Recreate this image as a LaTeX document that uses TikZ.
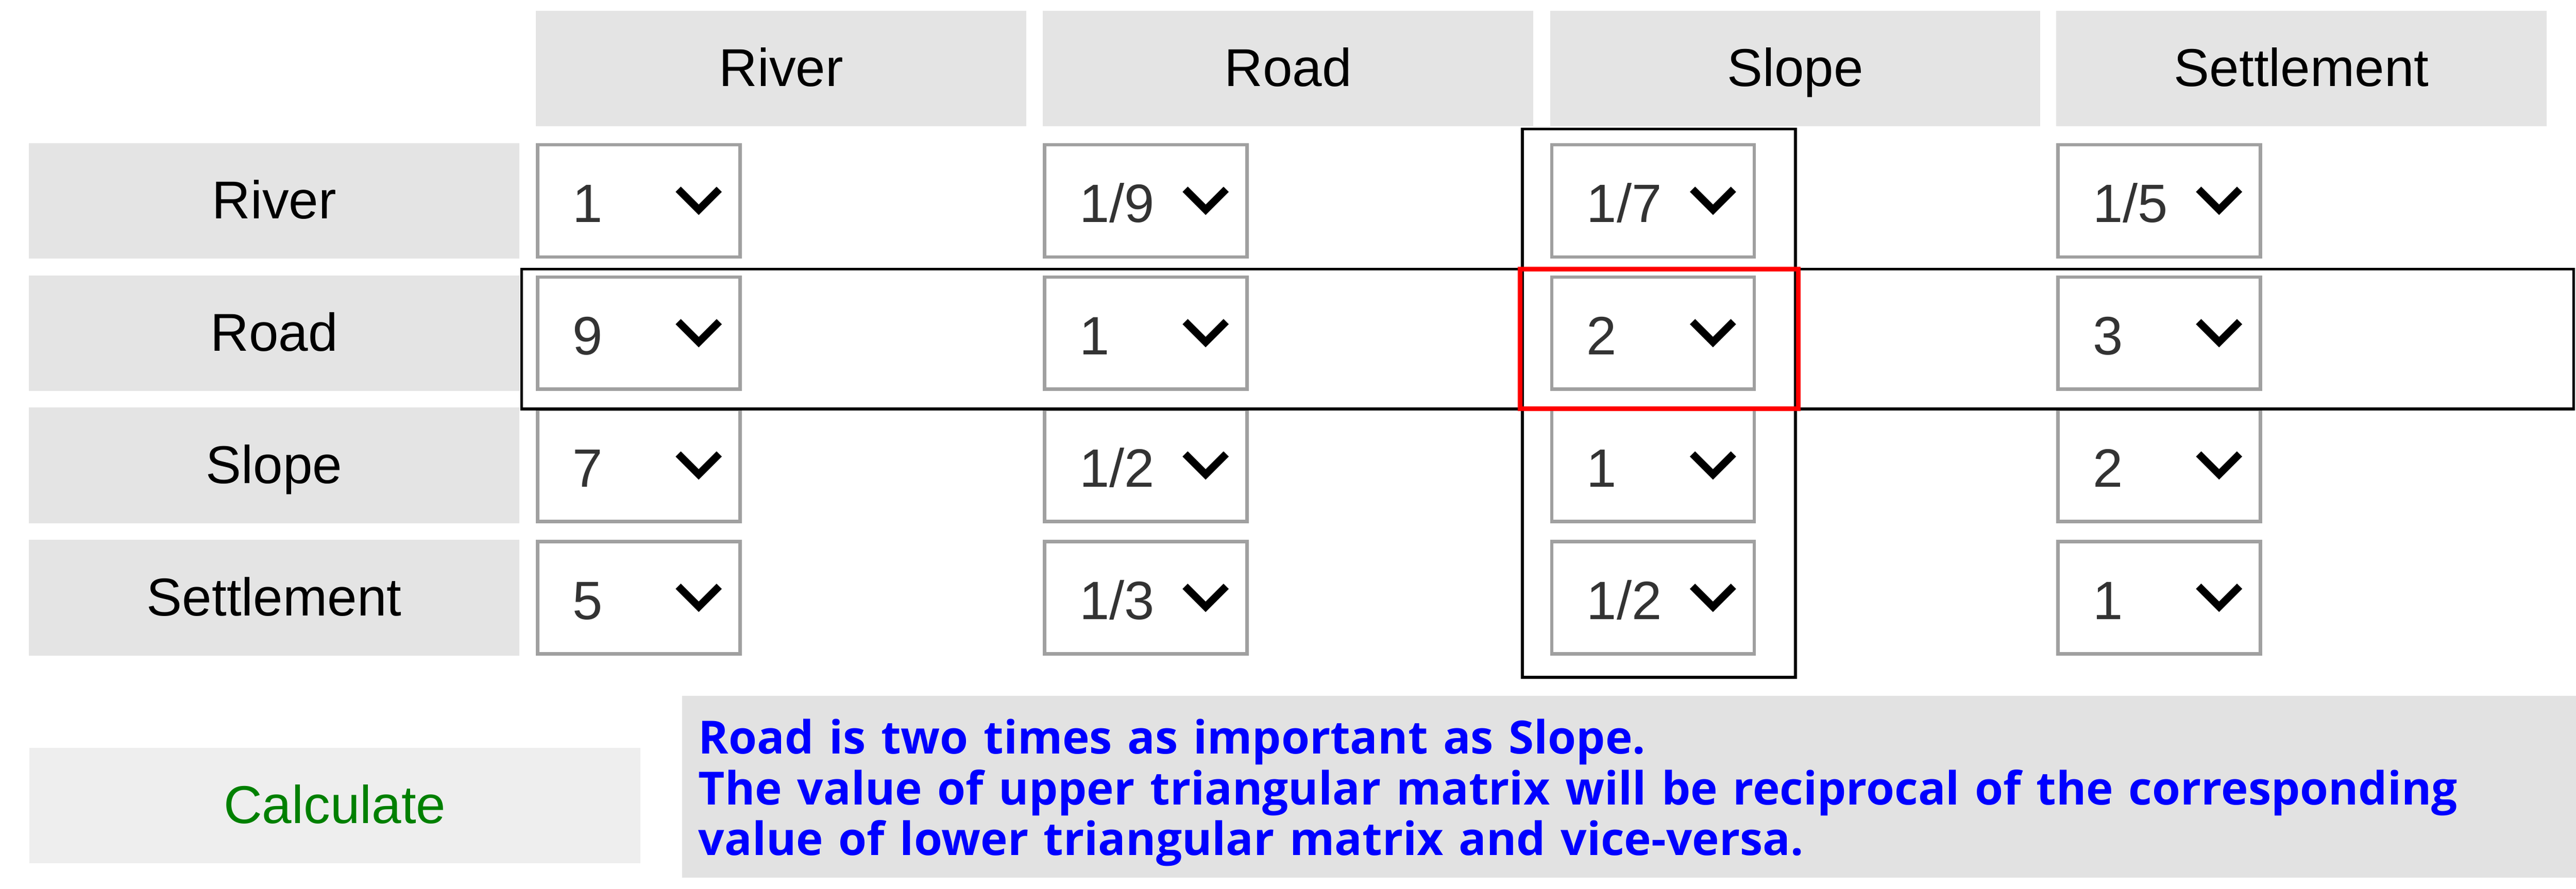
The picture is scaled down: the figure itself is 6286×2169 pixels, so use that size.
\documentclass[tikz,border=0pt]{standalone}
\usepackage{fontspec}
\setmainfont{Liberation Sans}
\newfontfamily\notefont{Open Sans}
\usepackage{tikz}
\usetikzlibrary{positioning}
\definecolor{cellgray}{HTML}{E4E4E4}
\definecolor{btngray}{HTML}{EEEEEE}
\definecolor{notegray}{HTML}{E2E2E2}
\definecolor{selgray}{HTML}{A0A0A0}
\definecolor{numgray}{HTML}{333333}
\definecolor{calcgreen}{HTML}{008000}
\definecolor{noteblue}{HTML}{0000FF}
\tikzset{
    cell/.style={fill=cellgray, minimum width=119.6mm, minimum height=28.2mm, inner sep=0pt,
        text height=8.8mm, text depth=0mm, font=\fontsize{37}{44}\selectfont},
    sel/.style={draw=selgray, line width=0.8mm, fill=white,
        minimum width=49.4mm, minimum height=27.4mm,
        inner xsep=8.5mm, inner ysep=0pt, text width=32.4mm, align=left, text=numgray,
        text height=10.6mm, text depth=0mm, font=\fontsize{37.5}{44}\selectfont,
        path picture={\draw[line width=1.8mm, black]
            ([shift={(9.6mm,2.8mm)}]path picture bounding box.center) --
            ([shift={(14.6mm,-2.2mm)}]path picture bounding box.center) --
            ([shift={(19.6mm,2.8mm)}]path picture bounding box.center);}},
    hilite/.style={draw=black, line width=0.7mm}
}
\begin{document}
\begin{tikzpicture}[x=0.1mm, y=-0.1mm]
            \useasboundingbox (0,0) rectangle (6286,2169);

            % column and row heads
            \node (h1) [cell] at (1906,167) {River};
            \node (h2) [cell] at (3143,167) {Road};
            \node (h3) [cell] at (4381,167) {Slope};
            \node (h4) [cell] at (5616,167) {Settlement};

            \node (r1) [cell] at (669, 490) {River};
            \node (r2) [cell] at (669, 813) {Road};
            \node (r3) [cell] at (669,1136) {Slope};
            \node (r4) [cell] at (669,1459) {Settlement};

            % the select boxes
            \node (s11) [sel] at (1559, 490) {1};
            \node (s12) [sel] at (2796, 490) {1/9};
            \node (s13) [sel] at (4034, 490) {1/7};
            \node (s14) [sel] at (5269, 490) {1/5};

            \node (s21) [sel] at (1559, 813) {9};
            \node (s22) [sel] at (2796, 813) {1};
            \node (s23) [sel] at (4034, 813) {2};
            \node (s24) [sel] at (5269, 813) {3};

            \node (s31) [sel] at (1559,1136) {7};
            \node (s32) [sel] at (2796,1136) {1/2};
            \node (s33) [sel] at (4034,1136) {1};
            \node (s34) [sel] at (5269,1136) {2};

            \node (s41) [sel] at (1559,1459) {5};
            \node (s42) [sel] at (2796,1459) {1/3};
            \node (s43) [sel] at (4034,1459) {1/2};
            \node (s44) [sel] at (5269,1459) {1};

            % frames round Road and Slope
            \draw[hilite] (1273,657) rectangle (6280,998);
            \draw[hilite] (3715,315) rectangle (4381,1653);
            \draw[hilite, draw=red, line width=1.1mm] (3709,657) rectangle (4388,998);

            % button and note
            \node (calc) [cell, fill=btngray, text=calcgreen, minimum width=149.1mm] at (817,1966) {Calculate};
            \node (note) [fill=notegray, minimum width=462.2mm, minimum height=44.4mm, inner sep=0pt] at (3975,1920) {};
            \node (notetxt) [anchor=base west, inner sep=0pt, text width=450mm, align=left, text=noteblue,
                font=\notefont\bfseries\fontsize{31.8}{35.3}\selectfont] at (1704,1840)
                {Road is two times as important as Slope.\\
                 The value of upper triangular matrix will be reciprocal of the corresponding\\
                 value of lower triangular matrix and vice-versa.};
        \end{tikzpicture}
\end{document}
